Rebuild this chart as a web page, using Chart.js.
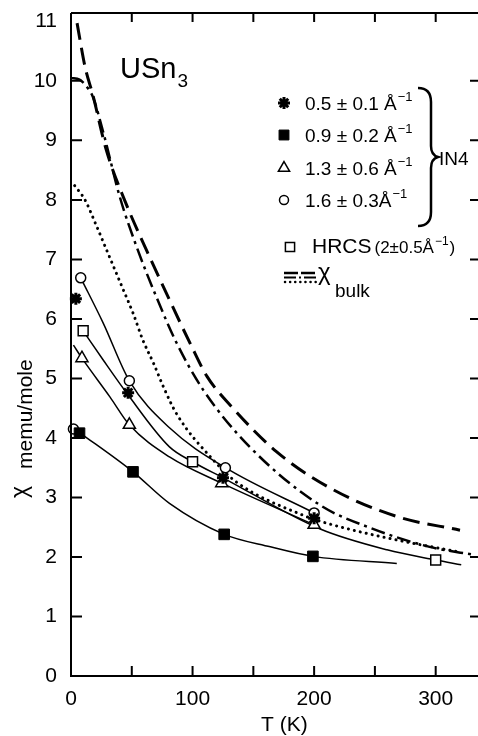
<!DOCTYPE html>
<html>
<head>
<meta charset="utf-8">
<script src="https://cdn.jsdelivr.net/npm/chart.js@4.4.1/dist/chart.umd.min.js"></script>
<style>
	html, body { margin: 0; padding: 0; background: #fff; overflow: hidden; }
	#chiChart { display: block; }
</style>
</head>
<body>
<canvas id="chiChart" width="478" height="736"></canvas>
<script>
// --- DATA (T in K, chi in memu/mole) --- //
const starT = [4, 47, 125, 200];
const starChi = [6.34, 4.76, 3.33, 2.65];
const fSqT = [7, 51, 126, 199];
const fSqChi = [4.08, 3.43, 2.38, 2.01];
const triT = [9, 48, 124, 200];
const triChi = [5.34, 4.22, 3.24, 2.54];
const circT = [2, 8, 48, 127, 200];
const circChi = [4.15, 6.69, 4.96, 3.50, 2.74];
const hrcsT = [10, 100, 300];
const hrcsChi = [5.80, 3.60, 1.95];

// fitted curves through the points
const fitCircT = [8, 26.5, 48, 81, 127, 200];
const fitCircChi = [6.69, 5.93, 4.96, 4.17, 3.50, 2.74];
const fitHrcsT = [10, 26.5, 46, 81, 100, 125, 205, 260, 300, 321];
const fitHrcsChi = [5.80, 5.31, 4.75, 3.85, 3.60, 3.33, 2.47, 2.12, 1.95, 1.87];
const fitTriT = [2, 9, 32, 48, 81, 124, 200];
const fitTriChi = [5.56, 5.34, 4.69, 4.22, 3.68, 3.24, 2.54];
const fitSqT = [5, 51, 81, 126, 164, 199, 268];
const fitSqChi = [4.12, 3.43, 2.90, 2.38, 2.17, 2.01, 1.89];

// bulk susceptibility curves
const dashT = [5, 11.5, 18, 29, 44, 62, 81, 98, 112, 131, 169, 213, 268, 320];
const dashChi = [10.97, 10.24, 9.76, 8.84, 8.0, 7.16, 6.32, 5.59, 5.03, 4.55, 3.77, 3.16, 2.68, 2.45];
const dashDotT = [0, 7, 13, 18, 27, 40, 54, 70, 87, 109, 147, 205, 246, 295, 333];
const dashDotChi = [10.05, 10.02, 9.9, 9.73, 9.1, 8.06, 7.21, 6.38, 5.59, 4.8, 3.85, 2.87, 2.49, 2.17, 2.03];
const dotT = [3, 11.5, 20, 27, 35, 43, 51, 59, 68, 76, 87, 117, 136, 191, 210, 260, 320];
const dotChi = [8.24, 8.0, 7.61, 7.27, 6.88, 6.49, 6.10, 5.65, 5.25, 4.86, 4.40, 3.63, 3.26, 2.70, 2.57, 2.32, 2.08];

const xMinorTicks = [50, 100, 150, 200, 250, 300];
const yMinorTicks = [1, 2, 3, 4, 5, 6, 7, 8, 9, 10];
const legendLabels = ['0.5 \u00b1 0.1 \u00c5', '0.9 \u00b1 0.2 \u00c5', '1.3 \u00b1 0.6 \u00c5', '1.6 \u00b1 0.3\u00c5'];

const FONT = '"Liberation Sans", Arial, sans-serif';

const pts = (xs, ys) => xs.map((x, i) => ({ x: x, y: ys[i] }));

const markSet = (xs, ys, style, r, fill, bw) => ({
	data: pts(xs, ys), showLine: false, clip: false, order: 0,
	pointStyle: style, pointRadius: r, pointHoverRadius: r,
	pointBackgroundColor: fill, pointBorderColor: '#000', pointBorderWidth: bw
});

const curveSet = (xs, ys, width, dash, cap) => ({
	data: pts(xs, ys), showLine: true, clip: false, order: 1, pointRadius: 0, pointHoverRadius: 0,
	borderColor: '#000', borderWidth: width, borderDash: dash, borderCapStyle: cap || 'butt',
	cubicInterpolationMode: 'monotone', fill: false
});

function drawMark(c, style, r, fill, bw, x, y) {
	c.fillStyle = fill;
	c.strokeStyle = '#000';
	c.lineWidth = bw;
	Chart.helpers.drawPoint(c, { pointStyle: style, radius: r, borderWidth: bw, rotation: 0 }, x, y);
}

function textSup(c, base, sup, x, y, size, supSize) {
	c.font = `${size}px ${FONT}`;
	c.fillText(base, x, y);
	const w = c.measureText(base).width;
	c.font = `${supSize}px ${FONT}`;
	c.fillText(sup, x + w + 1, y - size * 0.45);
	return x + w + 1 + c.measureText(sup).width;
}

// inward ticks + frame
const framePlugin = {
	id: 'frame',
	afterDraw(chart) {
		const c = chart.ctx;
		const a = chart.chartArea;
		const xs = chart.scales.x, ys = chart.scales.y;
		c.save();
		c.strokeStyle = '#000';
		c.lineWidth = 2;
		c.beginPath();
		c.moveTo(a.left, a.top); c.lineTo(chart.width, a.top);
		c.moveTo(a.left, a.top); c.lineTo(a.left, a.bottom); c.lineTo(chart.width, a.bottom);
		xMinorTicks.forEach(v => {
			const px = xs.getPixelForValue(v);
			c.moveTo(px, a.bottom); c.lineTo(px, a.bottom - 10);
			c.moveTo(px, a.top); c.lineTo(px, a.top + 9);
		});
		yMinorTicks.forEach(v => {
			const py = ys.getPixelForValue(v);
			c.moveTo(a.left, py); c.lineTo(a.left + 11, py);
			c.moveTo(chart.width, py); c.lineTo(chart.width - 8, py);
		});
		c.stroke();
		c.restore();
	}
};

// labels, legend, brace
const textPlugin = {
	id: 'texts',
	afterDraw(chart) {
		const c = chart.ctx;
		c.save();
		c.fillStyle = '#000';
		c.textAlign = 'left';
		c.textBaseline = 'alphabetic';

		// compound name
		c.font = `29px ${FONT}`;
		c.fillText('USn', 120, 78);
		const wu = c.measureText('USn').width;
		c.font = `19px ${FONT}`;
		c.fillText('3', 120 + wu + 1, 87);

		// IN4 legend
		const rows = [110, 142, 175, 207];
		const marks = [['star', 6, '#000', 3], ['rect', 7, '#000', 1], ['triangle', 6.5, '#fff', 1.5], ['circle', 4.5, '#fff', 1.5]];
		const markY = [103, 135, 168, 200];
		legendLabels.forEach((lab, i) => {
			const m = marks[i];
			drawMark(c, m[0], m[1], m[2], m[3], 284, markY[i]);
			c.fillStyle = '#000';
			textSup(c, lab, '\u22121', 305, rows[i], 19, 13);
		});

		// brace + IN4
		c.strokeStyle = '#000';
		c.lineWidth = 2.5;
		c.beginPath();
		c.moveTo(418, 88);
		c.quadraticCurveTo(431, 88, 431, 102);
		c.lineTo(431, 146);
		c.quadraticCurveTo(431, 155, 438, 157);
		c.quadraticCurveTo(431, 159, 431, 168);
		c.lineTo(431, 212);
		c.quadraticCurveTo(431, 226, 418, 226);
		c.stroke();
		c.font = `19px ${FONT}`;
		c.fillText('IN4', 439, 165);

		// HRCS
		drawMark(c, 'rect', 6.5, '#fff', 1.5, 290, 247);
		c.fillStyle = '#000';
		c.font = `21px ${FONT}`;
		c.fillText('HRCS', 312, 253);
		let x = 312 + c.measureText('HRCS').width + 3;
		x = textSup(c, '(2\u00b10.5\u00c5', '\u22121', x, 253, 17, 12);
		c.font = `17px ${FONT}`;
		c.fillText(')', x + 1, 253);

		// bulk line sample
		c.strokeStyle = '#000';
		c.beginPath(); c.lineWidth = 2.5; c.setLineDash([14, 3]);
		c.moveTo(284, 273); c.lineTo(316, 273); c.stroke();
		c.beginPath(); c.lineWidth = 2; c.setLineDash([12, 3, 2, 3]);
		c.moveTo(284, 277.5); c.lineTo(316, 277.5); c.stroke();
		c.beginPath(); c.lineWidth = 2.5; c.lineCap = 'round'; c.setLineDash([0.1, 5]);
		c.moveTo(285, 282); c.lineTo(316, 282); c.stroke();
		c.setLineDash([]); c.lineCap = 'butt';
		c.font = `24px ${FONT}`;
		c.fillText('\u03c7', 318, 280);
		c.font = `19px ${FONT}`;
		c.fillText('bulk', 335, 297);

		// axis titles
		c.font = `21px ${FONT}`;
		c.fillText('T (K)', 261, 731);
		c.translate(32, 498);
		c.rotate(-Math.PI / 2);
		c.font = `23px ${FONT}`;
		c.fillText('\u03c7', 0, -5);
		c.font = `21px ${FONT}`;
		c.fillText('memu/mole', 29, 0);
		c.restore();
	}
};

new Chart(document.getElementById('chiChart'), {
	type: 'scatter',
	data: {
		datasets: [
			markSet(starT, starChi, 'star', 6, '#000', 3),
			markSet(fSqT, fSqChi, 'rect', 7.5, '#000', 1),
			markSet(triT, triChi, 'triangle', 7, '#fff', 1.5),
			markSet(circT, circChi, 'circle', 5, '#fff', 1.5),
			markSet(hrcsT, hrcsChi, 'rect', 7, '#fff', 1.5),
			curveSet(fitCircT, fitCircChi, 1.5, []),
			curveSet(fitHrcsT, fitHrcsChi, 1.5, []),
			curveSet(fitTriT, fitTriChi, 1.5, []),
			curveSet(fitSqT, fitSqChi, 1.5, []),
			curveSet(dashT, dashChi, 3, [17, 8]),
			curveSet(dashDotT, dashDotChi, 2.5, [14, 5, 3, 5]),
			curveSet(dotT, dotChi, 3, [0.1, 6], 'round')
		]
	},
	options: {
		responsive: false,
		animation: false,
		layout: { padding: { top: 13, right: 1, left: 0, bottom: 0 } },
		plugins: { legend: { display: false }, tooltip: { enabled: false } },
		scales: {
			x: {
				type: 'linear', min: 0, max: 327.4,
				afterFit: s => { s.height = 60; s.paddingLeft = 0; s.paddingRight = 0; },
				grid: { display: false }, border: { display: false },
				ticks: { stepSize: 100, includeBounds: false, autoSkip: false, maxRotation: 0, padding: 3, color: '#000', font: { family: FONT, size: 21 } }
			},
			y: {
				min: 0, max: 11.14,
				afterFit: s => { s.width = 71; s.paddingTop = 0; s.paddingBottom = 0; },
				grid: { display: false }, border: { display: false },
				ticks: { stepSize: 1, includeBounds: false, autoSkip: false, padding: 6, color: '#000', font: { family: FONT, size: 21 } }
			}
		}
	},
	plugins: [framePlugin, textPlugin]
});
</script>
</body>
</html>
